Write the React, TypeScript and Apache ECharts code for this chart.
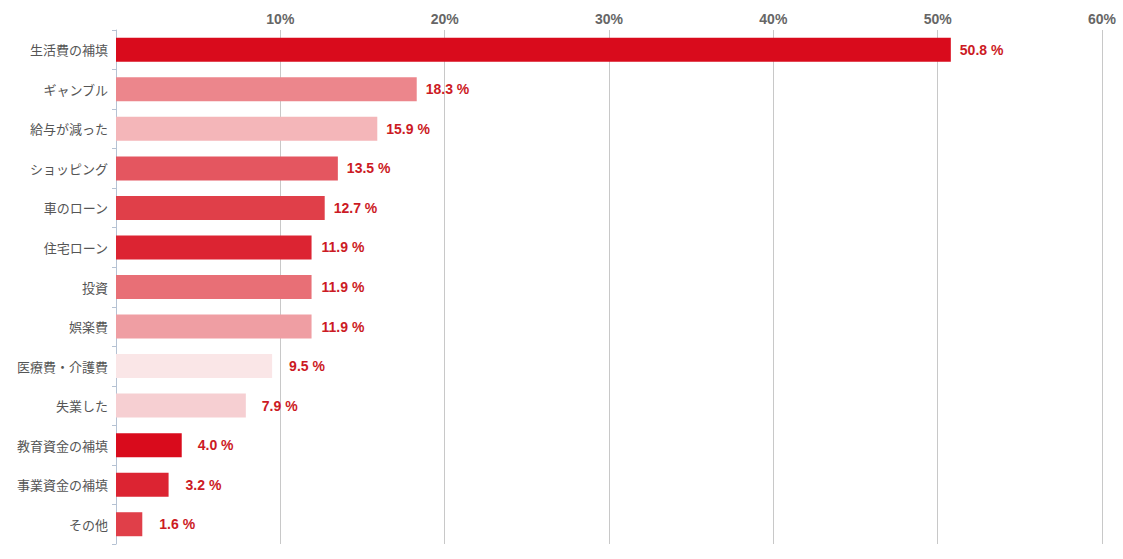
import React, { useEffect, useRef } from "react";
import * as echarts from "echarts";

const categories = [
  "生活費の補填",
  "ギャンブル",
  "給与が減った",
  "ショッピング",
  "車のローン",
  "住宅ローン",
  "投資",
  "娯楽費",
  "医療費・介護費",
  "失業した",
  "教育資金の補填",
  "事業資金の補填",
  "その他",
];
const values = [50.8, 18.3, 15.9, 13.5, 12.7, 11.9, 11.9, 11.9, 9.5, 7.9, 4.0, 3.2, 1.6];
const barColors = [
  "#d90b1c",
  "#ec868c",
  "#f4b6b9",
  "#e45660",
  "#e03f49",
  "#dc2432",
  "#e86f76",
  "#ef9ea3",
  "#fae6e7",
  "#f6cfd2",
  "#d90b1c",
  "#dc2432",
  "#e03f49",
];
const labelGaps = [9, 9, 9, 9, 9, 10, 10, 10, 17, 16, 16, 17, 17];

export default function App() {
  const ref = useRef<HTMLDivElement>(null);
  useEffect(() => {
    if (!ref.current) return;
    const chart = echarts.init(ref.current, undefined, { renderer: "svg" });
    chart.setOption({
      animation: false,
      backgroundColor: "#ffffff",
      grid: { left: 116, right: 21, top: 30, bottom: 15, containLabel: false },
      xAxis: {
        type: "value",
        position: "top",
        min: 0,
        max: 60,
        interval: 10,
        axisLine: { show: false },
        axisTick: { show: false },
        axisLabel: {
          showMinLabel: false,
          formatter: "{value}%",
          color: "#666666",
          fontWeight: "bold",
          fontSize: 14,
          fontFamily: "'Liberation Sans', Arial, sans-serif",
          margin: 4,
        },
        splitLine: { show: true, lineStyle: { color: "#c8c8c8", width: 1 } },
      },
      yAxis: {
        type: "category",
        inverse: true,
        data: categories,
        axisLine: { show: true, lineStyle: { color: "#b5c2d3", width: 1 } },
        axisTick: { show: true, length: 4, lineStyle: { color: "#b5c2d3" } },
        axisLabel: {
          color: "#555555",
          fontSize: 13,
          fontFamily: "'Noto Sans CJK JP', sans-serif",
          margin: 8,
        },
        splitLine: { show: false },
      },
      series: [
        {
          type: "bar",
          barWidth: 24,
          data: values.map((v, i) => ({
            value: v,
            itemStyle: { color: barColors[i] },
            label: { distance: labelGaps[i] },
          })),
          label: {
            show: true,
            position: "right",
            formatter: (p: any) => p.value.toFixed(1) + " %",
            color: "#cc1a24",
            fontWeight: "bold",
            fontSize: 14,
            fontFamily: "'Liberation Sans', Arial, sans-serif",
          },
        },
      ],
    });
    return () => chart.dispose();
  }, []);
  return (
    <div
      ref={ref}
      style={{ position: "fixed", left: 0, top: 0, width: 1123, height: 559 }}
    />
  );
}
